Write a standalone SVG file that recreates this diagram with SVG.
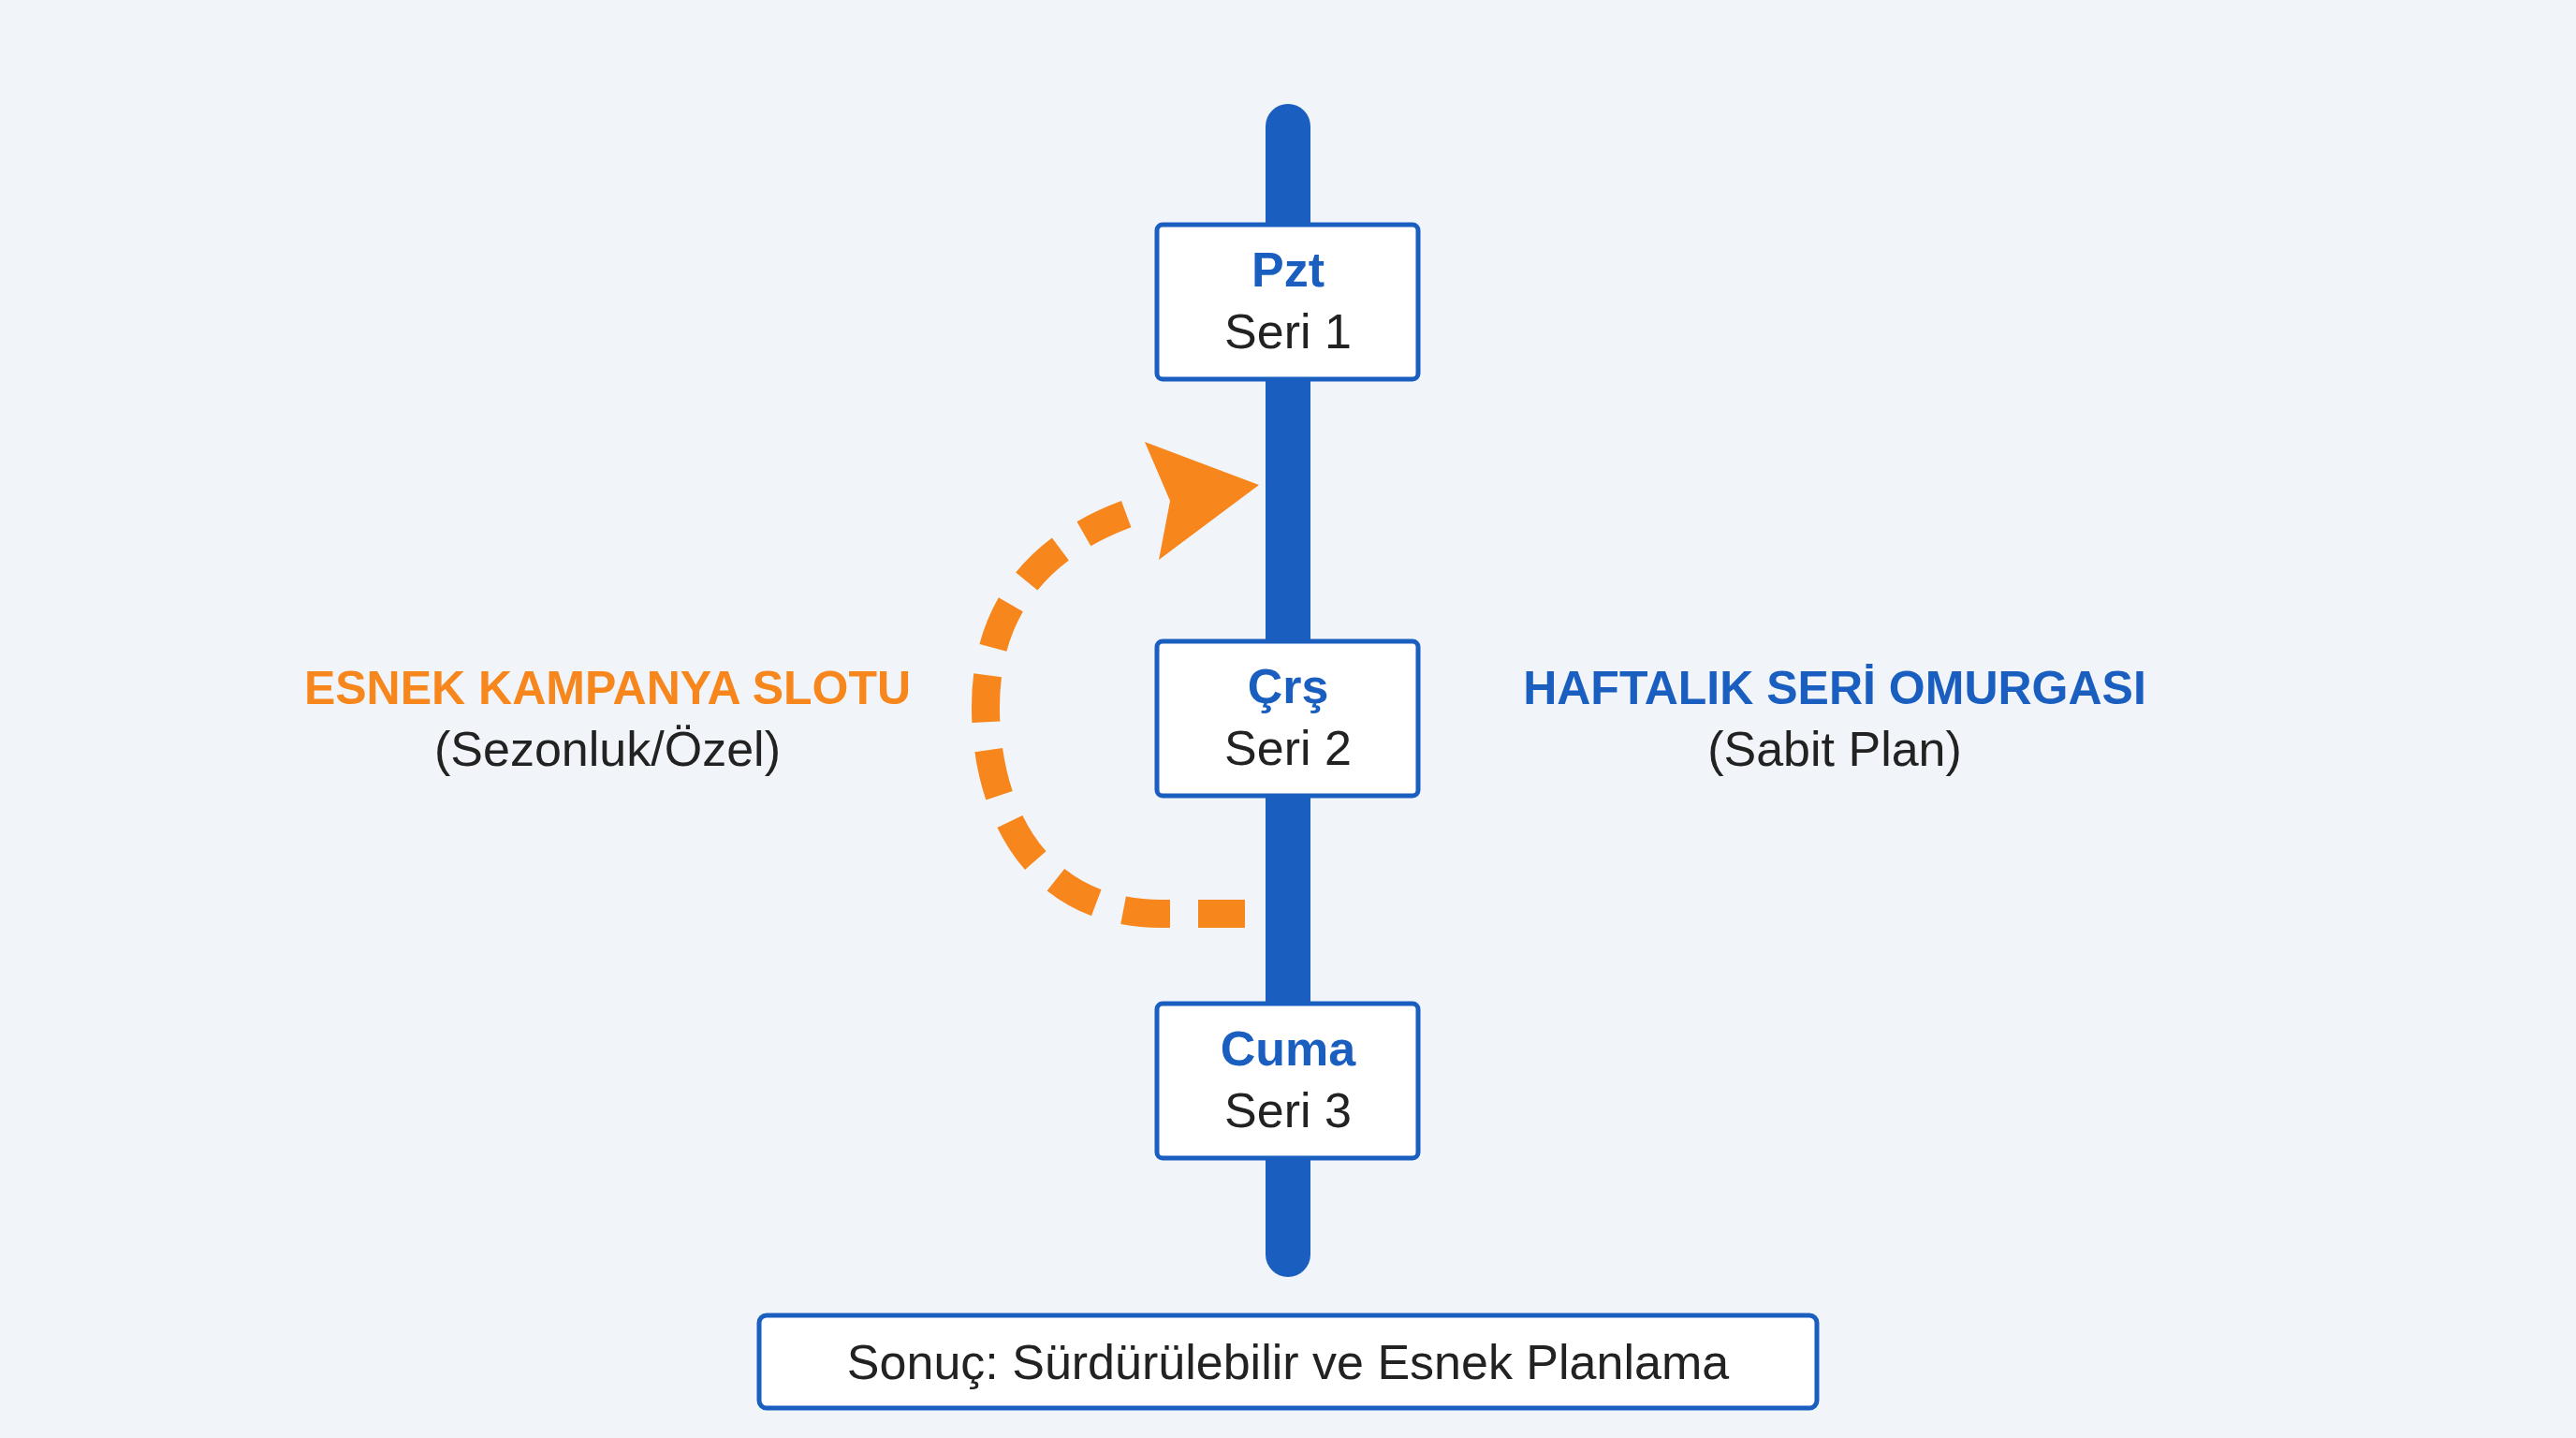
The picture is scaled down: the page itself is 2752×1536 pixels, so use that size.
<svg xmlns="http://www.w3.org/2000/svg" width="2752" height="1536" viewBox="0 0 2752 1536">
<style>
.box{fill:#fff;stroke:#1a5fc0;stroke-width:5}
.day{font-family:"Liberation Sans",Arial,sans-serif;font-weight:bold;font-size:52px;fill:#1a5fc0;text-anchor:middle}
.ser{font-family:"Liberation Sans",Arial,sans-serif;font-size:52px;fill:#222;text-anchor:middle}
.lbl{font-family:"Liberation Sans",Arial,sans-serif;font-weight:bold;font-size:50px;text-anchor:middle}
</style>
<rect width="2752" height="1536" fill="#f1f5fa"/>
<g id="connectors">
<line x1="1376" y1="135" x2="1376" y2="1340" stroke="#1a5fc0" stroke-width="48" stroke-linecap="round"/>
<path d="M1350,976 L1240,976 C1110,976 1053,870 1053,755 C1053,650 1110,580 1215,545" fill="none" stroke="#f7861c" stroke-width="30" stroke-dasharray="50 30" stroke-dashoffset="-20"/>
<polygon points="1223,472 1345,518 1238,598 1250,535" fill="#f7861c"/>
</g>
<g id="pzt"><rect class="box" x="1236" y="240" width="279" height="165" rx="6"/><text class="day" x="1376" y="306">Pzt</text><text class="ser" x="1376" y="372">Seri 1</text></g>
<g id="crs"><rect class="box" x="1236" y="685" width="279" height="165" rx="6"/><text class="day" x="1376" y="751">Çrş</text><text class="ser" x="1376" y="817">Seri 2</text></g>
<g id="cuma"><rect class="box" x="1236" y="1072" width="279" height="165" rx="6"/><text class="day" x="1376" y="1138">Cuma</text><text class="ser" x="1376" y="1204">Seri 3</text></g>
<g id="left"><text class="lbl" x="649" y="752" fill="#f7861c">ESNEK KAMPANYA SLOTU</text><text class="ser" x="649" y="818">(Sezonluk/Özel)</text></g>
<g id="right"><text class="lbl" x="1960" y="752" fill="#1a5fc0">HAFTALIK SERİ OMURGASI</text><text class="ser" x="1960" y="818">(Sabit Plan)</text></g>
<g id="result"><rect class="box" x="811" y="1405" width="1130" height="99" rx="8"/><text class="ser" x="1376" y="1473" font-size="56">Sonuç: Sürdürülebilir ve Esnek Planlama</text></g>
</svg>
